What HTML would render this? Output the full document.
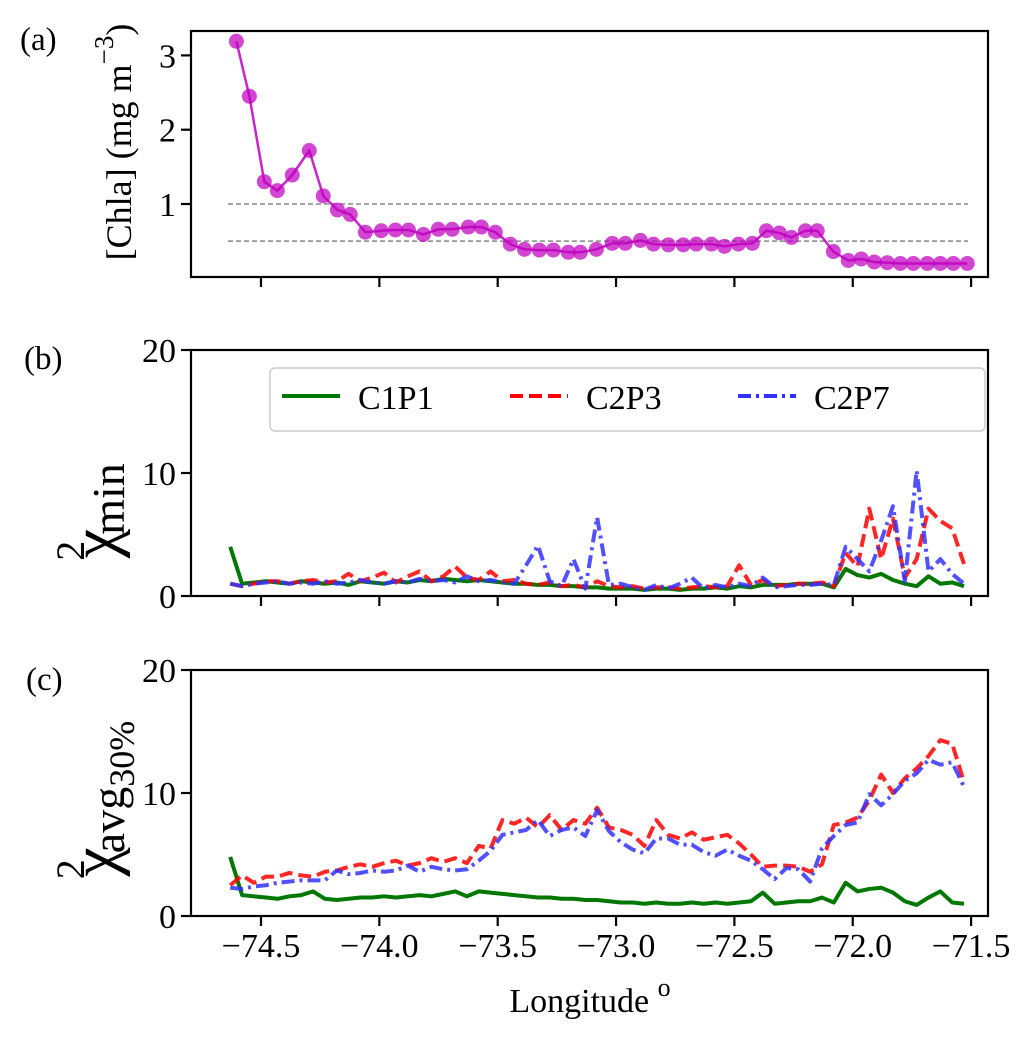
<!DOCTYPE html>
<html><head><meta charset="utf-8"><style>
body{margin:0;background:#fff;}
svg{display:block;}
text{font-family:"Liberation Serif",serif;}
</style></head><body>
<svg id="fig" width="1033" height="1042" viewBox="0 0 1033 1042" xmlns="http://www.w3.org/2000/svg"></svg>
<script>
const chlaLon=[-74.604,-74.549,-74.486,-74.431,-74.368,-74.296,-74.237,-74.177,-74.123,-74.059,-73.992,-73.932,-73.877,-73.814,-73.751,-73.692,-73.624,-73.569,-73.510,-73.447,-73.387,-73.324,-73.265,-73.202,-73.151,-73.083,-73.016,-72.961,-72.897,-72.842,-72.779,-72.716,-72.661,-72.597,-72.542,-72.483,-72.424,-72.365,-72.310,-72.259,-72.200,-72.150,-72.082,-72.019,-71.964,-71.909,-71.854,-71.799,-71.744,-71.685,-71.630,-71.575,-71.516];
const chlaVal=[3.19,2.45,1.30,1.18,1.39,1.72,1.11,0.92,0.86,0.62,0.64,0.65,0.65,0.59,0.66,0.66,0.69,0.69,0.62,0.46,0.39,0.38,0.38,0.35,0.35,0.39,0.47,0.47,0.51,0.46,0.45,0.45,0.46,0.46,0.43,0.46,0.47,0.64,0.61,0.55,0.64,0.64,0.36,0.24,0.26,0.22,0.21,0.20,0.20,0.20,0.20,0.20,0.20];
const chlaRefLines=[1,0.5];
const lon=[-74.63,-74.58,-74.53,-74.48,-74.43,-74.38,-74.33,-74.28,-74.23,-74.18,-74.13,-74.08,-74.03,-73.98,-73.93,-73.88,-73.83,-73.78,-73.73,-73.68,-73.63,-73.58,-73.53,-73.48,-73.43,-73.38,-73.33,-73.28,-73.23,-73.18,-73.13,-73.08,-73.03,-72.98,-72.93,-72.88,-72.83,-72.78,-72.73,-72.68,-72.63,-72.58,-72.53,-72.48,-72.43,-72.38,-72.33,-72.28,-72.23,-72.18,-72.13,-72.08,-72.03,-71.98,-71.93,-71.88,-71.83,-71.78,-71.73,-71.68,-71.63,-71.58,-71.53];
const minC1P1=[4.0,1.0,1.1,1.2,1.1,1.0,1.2,1.1,1.0,1.1,0.9,1.2,1.1,1.0,1.2,1.1,1.3,1.2,1.4,1.3,1.2,1.3,1.2,1.1,1.0,1.0,0.9,0.9,0.8,0.8,0.7,0.7,0.6,0.6,0.6,0.5,0.6,0.6,0.5,0.6,0.6,0.7,0.6,0.8,0.7,0.9,0.9,0.9,1.0,1.0,1.0,0.7,2.2,1.7,1.5,1.8,1.3,1.0,0.8,1.6,1.0,1.1,0.8];
const minC2P3=[1.0,0.8,1.0,1.2,1.2,1.0,1.2,1.3,1.1,1.2,1.8,1.2,1.5,1.9,1.1,1.6,2.0,1.2,1.6,2.4,1.5,1.3,2.0,1.2,1.3,1.0,0.9,1.1,0.8,0.9,0.7,1.2,0.8,0.7,0.8,0.6,0.7,0.7,0.6,0.7,0.8,0.7,0.8,2.5,0.9,1.3,0.8,0.9,1.0,1.0,1.1,0.8,3.5,2.4,7.1,3.0,6.3,1.5,3.0,7.1,6.1,5.5,2.6];
const minC2P7=[1.0,0.8,1.0,1.1,1.2,1.0,1.1,1.0,1.2,1.0,1.1,1.3,1.1,1.0,1.2,1.1,1.4,1.2,1.3,1.1,1.6,1.2,1.3,1.1,1.0,2.5,4.1,1.2,0.8,3.0,0.6,6.4,0.9,1.0,0.7,0.5,0.9,0.6,1.0,1.5,0.6,0.9,0.7,1.0,0.8,1.5,0.7,0.8,0.9,0.9,1.0,0.9,4.0,3.0,2.0,4.5,7.3,1.2,10.2,2.0,3.0,1.8,1.0];
const avgC1P1=[4.8,1.7,1.6,1.5,1.4,1.6,1.7,2.0,1.4,1.3,1.4,1.5,1.5,1.6,1.5,1.6,1.7,1.6,1.8,2.0,1.6,2.0,1.9,1.8,1.7,1.6,1.5,1.5,1.4,1.4,1.3,1.3,1.2,1.1,1.1,1.0,1.1,1.0,1.0,1.1,1.0,1.1,1.0,1.1,1.2,1.9,1.0,1.1,1.2,1.2,1.5,1.1,2.7,2.0,2.2,2.3,1.9,1.2,0.9,1.5,2.0,1.1,1.0];
const avgC2P3=[2.5,3.3,2.7,3.2,3.2,3.5,3.3,3.2,3.6,3.7,4.0,4.2,4.0,4.3,4.5,4.1,4.3,4.7,4.4,4.7,4.3,5.7,5.5,7.8,7.5,8.0,7.2,8.2,7.0,7.8,7.5,8.8,7.2,7.0,6.6,5.7,7.8,6.6,6.3,6.8,6.2,6.4,6.6,5.9,5.0,4.0,4.1,4.1,4.0,3.6,4.2,7.4,7.6,8.0,9.4,11.5,10.0,11.2,12.0,13.0,14.3,14.0,10.9];
const avgC2P7=[2.3,2.2,2.4,2.5,2.7,2.8,2.9,2.9,2.9,3.7,3.4,3.5,3.7,3.6,3.7,4.1,3.6,4.0,3.8,3.7,3.8,4.5,5.3,6.6,6.8,7.0,7.8,6.5,7.0,7.2,6.5,8.6,6.9,6.0,5.4,5.1,6.3,6.3,5.8,5.8,5.2,4.9,5.4,4.9,4.5,3.8,3.0,3.9,3.8,2.8,5.5,6.5,7.4,7.6,9.9,9.0,9.9,11.0,11.6,12.7,12.3,12.5,10.5];
const xTicks=[-74.5,-74.0,-73.5,-73.0,-72.5,-72.0,-71.5];
const xTickLabels=["\u221274.5","\u221274.0","\u221273.5","\u221273.0","\u221272.5","\u221272.0","\u221271.5"];
const aTicks=[1,2,3];
const bcTicks=[0,10,20];

const NS="http://www.w3.org/2000/svg";
const svg=document.getElementById('fig');
function mk(tag,attrs,parent,text){const e=document.createElementNS(NS,tag);for(const k in attrs)e.setAttribute(k,attrs[k]);if(text!==undefined)e.textContent=text;(parent||svg).appendChild(e);return e;}
const L=191,R=988;
const xs=v=>261+(v+74.5)*236.7;
const ya=v=>204-(v-1)*74.3;
const yb=v=>596-v*12.3;
const yc=v=>916-v*12.3;
const panels=[{top:31,bot:277,ys:ya,ticks:aTicks,name:'a'},{top:350,bot:596,ys:yb,ticks:bcTicks,name:'b'},{top:670,bot:916,ys:yc,ticks:bcTicks,name:'c'}];
panels.forEach(p=>{
  const g=mk('g',{},svg);
  
  
  p.g=g;
  p.ticks.forEach(t=>{
    const y=p.ys(t);
    const tl=mk('line',{x1:L-10,x2:L,y1:y,y2:y,stroke:'#000','stroke-width':2.2},g);
    
    
    const tx=mk('text',{x:L-15,y:y+12,'text-anchor':'end','font-size':34},g,String(t));
    
    
  });
  xTicks.forEach(t=>{
    const x=xs(t);
    const tl=mk('line',{x1:x,x2:x,y1:p.bot,y2:p.bot+10,stroke:'#000','stroke-width':2.2},g);
    
    
  });
});
const pa=panels[0];
chlaRefLines.forEach(v=>{
  const l=mk('line',{x1:228,x2:968,y1:ya(v),y2:ya(v),stroke:'#888','stroke-width':1.5,'stroke-dasharray':'5,3'},pa.g);
  
  
});
const chlaLine=mk('polyline',{points:chlaLon.map((v,i)=>xs(v)+','+ya(chlaVal[i])).join(' '),fill:'none',stroke:'#c000c0','stroke-width':2.5,opacity:0.85},pa.g);


chlaLon.forEach((v,i)=>{
  const c=mk('circle',{cx:xs(v),cy:ya(chlaVal[i]),r:7.5,fill:'#c000c0','fill-opacity':0.72},pa.g);
  
  
});
const styles=[{c:'#007800',d:'',n:'C1P1'},{c:'#ff0000',d:'13,6',n:'C2P3'},{c:'#3333ff',d:'13,5,3,5',n:'C2P7'}];
function series(p,arrs){
  arrs.forEach((a,si)=>{
    const s=styles[si];
    const pl=mk('polyline',{points:lon.map((v,i)=>xs(v)+','+p.ys(a[i])).join(' '),fill:'none',stroke:s.c,'stroke-width':4,'stroke-dasharray':s.d,opacity:si==0?1:0.85,'stroke-linejoin':'round'},p.g);
    
    
  });
}
series(panels[1],[minC1P1,minC2P3,minC2P7]);
series(panels[2],[avgC1P1,avgC2P3,avgC2P7]);
panels.forEach(p=>{
  const r=mk('rect',{x:L,y:p.top,width:R-L,height:p.bot-p.top,fill:'none',stroke:'#000','stroke-width':2.2},p.g);
  
  
});
xTicks.forEach((t,i)=>{
  const tx=mk('text',{x:xs(t),y:957,'text-anchor':'middle','font-size':34},svg,xTickLabels[i]);
  
  
});
const lg=mk('g',{},svg);


const lr=mk('rect',{x:270,y:368,width:715,height:63,rx:5,fill:'#fff',stroke:'#ccc','stroke-width':1.5},lg);


const lx=[282,510,738];
styles.forEach((s,i)=>{
  const e=mk('g',{},lg);
  
  
  mk('line',{x1:lx[i],x2:lx[i]+58,y1:396,y2:396,stroke:s.c,'stroke-width':4,'stroke-dasharray':s.d},e);
  mk('text',{x:lx[i]+76,y:409,'font-size':34},e,s.n);
});
</script>
<svg style="position:absolute;left:0;top:0" width="1033" height="1042">
<g>
<text x="20" y="50" font-size="33">(a)</text>
<text x="24" y="369" font-size="33">(b)</text>
<text x="26" y="690" font-size="33">(c)</text>
<text transform="translate(131,142) rotate(-90)" text-anchor="middle" font-size="36">[Chla] (mg m<tspan dy="-18" font-size="27">−3</tspan><tspan dy="18">)</tspan></text>
<text transform="translate(116,512) rotate(-90)" text-anchor="middle" font-size="66">χ<tspan dy="-32" dx="-32" font-size="40">2</tspan><tspan dy="40" dx="6" font-size="46">min</tspan></text>
<text transform="translate(116,800) rotate(-90)" text-anchor="middle" font-size="66">χ<tspan dy="-32" dx="-32" font-size="40">2</tspan><tspan dy="40" dx="6" font-size="46">avg</tspan><tspan dy="10" font-size="36">30%</tspan></text>
<text x="590" y="1012" text-anchor="middle" font-size="34">Longitude <tspan dy="-16" font-size="26">o</tspan></text>
</g></svg>
</body></html>
